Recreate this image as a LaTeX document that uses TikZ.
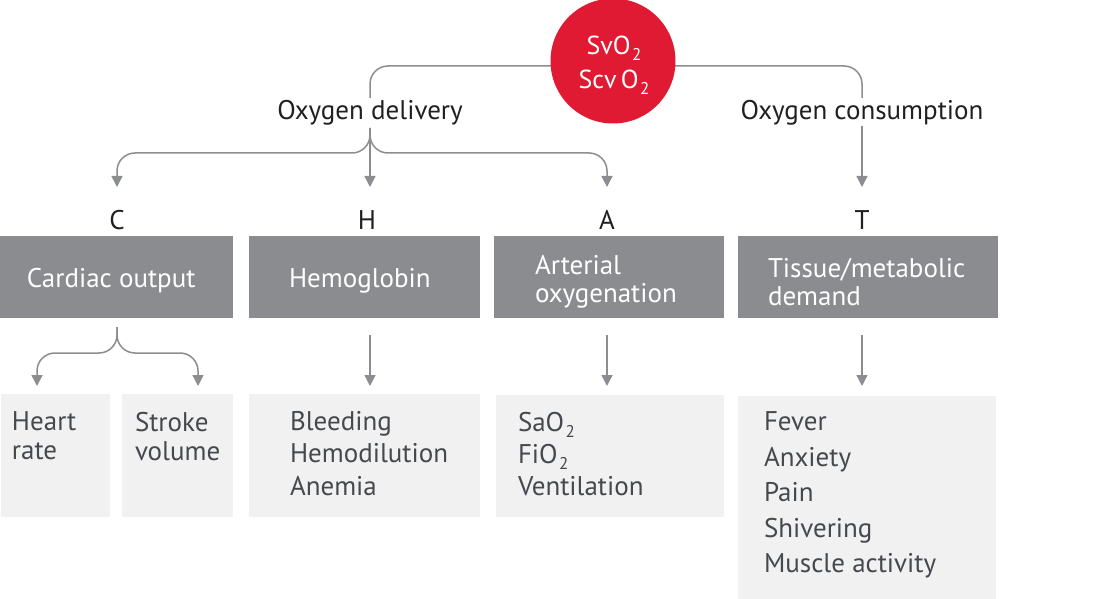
\documentclass[tikz,border=0pt]{standalone}
\usepackage{fontspec}
\setmainfont{PT Sans}
\usetikzlibrary{arrows.meta,calc}
\definecolor{boxdark}{HTML}{8B8C90}
\definecolor{boxlight}{HTML}{F1F1F1}
\definecolor{txtdark}{HTML}{45494D}
\definecolor{txtmain}{HTML}{231F20}
\definecolor{conncol}{HTML}{8C8D90}
\definecolor{redc}{HTML}{E01A33}
\newcommand{\mysub}[1]{\kern1.5pt\raisebox{-0.5ex}{\fontsize{17}{17}\selectfont #1}}
\begin{document}
\begin{tikzpicture}[x=1pt,y=-1pt,
  every node/.style={inner sep=0pt, outer sep=0pt},
  conn/.style={draw=conncol, line width=1.5pt, rounded corners=18pt},
  arr/.style={-{Triangle[width=11pt,length=11pt]}},
  lbl/.style={font=\fontsize{27}{29}\selectfont, text=txtmain, anchor=center},
  darkbox/.style={fill=boxdark},
  lightbox/.style={fill=boxlight},
  dtxt/.style={font=\fontsize{27}{28}\selectfont, text=white, anchor=west, align=left},
  ltxt/.style={text=txtdark, anchor=north west, align=left}]
\useasboundingbox (0,0) rectangle (1112,599);
% boxes
\path[darkbox] (0,236) rectangle (233,318);
\path[darkbox] (249,236) rectangle (480,318);
\path[darkbox] (494,236) rectangle (724,318);
\path[darkbox] (738,236) rectangle (998,318);
\path[lightbox] (1,394) rectangle (110,517);
\path[lightbox] (122,394) rectangle (233,517);
\path[lightbox] (249,394) rectangle (480,517);
\path[lightbox] (496,395) rectangle (724,517);
\path[lightbox] (738,396) rectangle (996,599);
% coordinates
\coordinate (top) at (613,66);
\coordinate (dl) at (370,98);
\coordinate (dr) at (862,98);
\coordinate (dstem) at (370,128);
\coordinate (cstem) at (862,126);
\coordinate (tC) at (117,187);
\coordinate (tH) at (370,187);
\coordinate (tA) at (607,187);
\coordinate (tT) at (862,187);
\coordinate (cos) at (117,327);
\coordinate (tHR) at (37,386);
\coordinate (tSV) at (198,386);
\coordinate (hs) at (370,335);
\coordinate (as) at (607,335);
\coordinate (ts) at (862,335);
\coordinate (hb) at (370,386);
\coordinate (ab) at (607,386);
\coordinate (tb) at (862,386);
% top connectors
\draw[conn] (top) -| (dl);
\draw[conn] (top) -| (dr);
% circle
\node[circle, fill=redc, minimum size=125pt] (sv) at (613,61) {};
\node[font=\fontsize{26}{27}\selectfont, text=white] (sv1) at (614,48) {SvO\mysub{2}};
\node[font=\fontsize{26}{27}\selectfont, text=white] (sv2) at (614,82) {Scv\,O\mysub{2}};
% labels
\node[lbl] (od) at (370,113) {Oxygen delivery};
\node[lbl] (oc) at (862,113) {Oxygen consumption};
% delivery arrows
\draw[conn, arr] (dstem) |- ($(tC)+(0,-34)$) -- (tC);
\draw[conn, arr] (dstem) |- ($(tA)+(0,-34)$) -- (tA);
\draw[conn, arr] (dstem) -- (tH);
\draw[conn, arr] (cstem) -- (tT);
% letters
\node[lbl] (lC) at (117,220) {C};
\node[lbl] (lH) at (367,220) {H};
\node[lbl] (lA) at (607,220) {A};
\node[lbl] (lT) at (862,220) {T};
% dark box text
\node[dtxt] (co) at (27,281) {Cardiac output};
\node[dtxt] (hg) at (289,281) {Hemoglobin};
\node[dtxt] (ao) at (535,282) {Arterial\\oxygenation};
\node[dtxt] (tm) at (768,282) {Tissue/metabolic\\demand};
% lower arrows
\draw[conn, arr] (cos) |- ($(tHR)+(0,-33)$) -- (tHR);
\draw[conn, arr] (cos) |- ($(tSV)+(0,-33)$) -- (tSV);
\draw[conn, arr] (hs) -- (hb);
\draw[conn, arr] (as) -- (ab);
\draw[conn, arr] (ts) -- (tb);
% light box text
\node[ltxt, font=\fontsize{27}{29}\selectfont] (hr) at (12,412) {Heart\\rate};
\node[ltxt, font=\fontsize{27}{29}\selectfont] (sv3) at (135,412) {Stroke\\volume};
\node[ltxt, font=\fontsize{27}{32.5}\selectfont] (bl) at (290,411) {Bleeding\\Hemodilution\\Anemia};
\node[ltxt, font=\fontsize{27}{32}\selectfont] (sa) at (518,412) {SaO\mysub{2}\\FiO\mysub{2}\\Ventilation};
\node[ltxt, font=\fontsize{27}{35.5}\selectfont] (fv) at (764,412) {Fever\\Anxiety\\Pain\\Shivering\\Muscle activity};
\end{tikzpicture}
\end{document}
